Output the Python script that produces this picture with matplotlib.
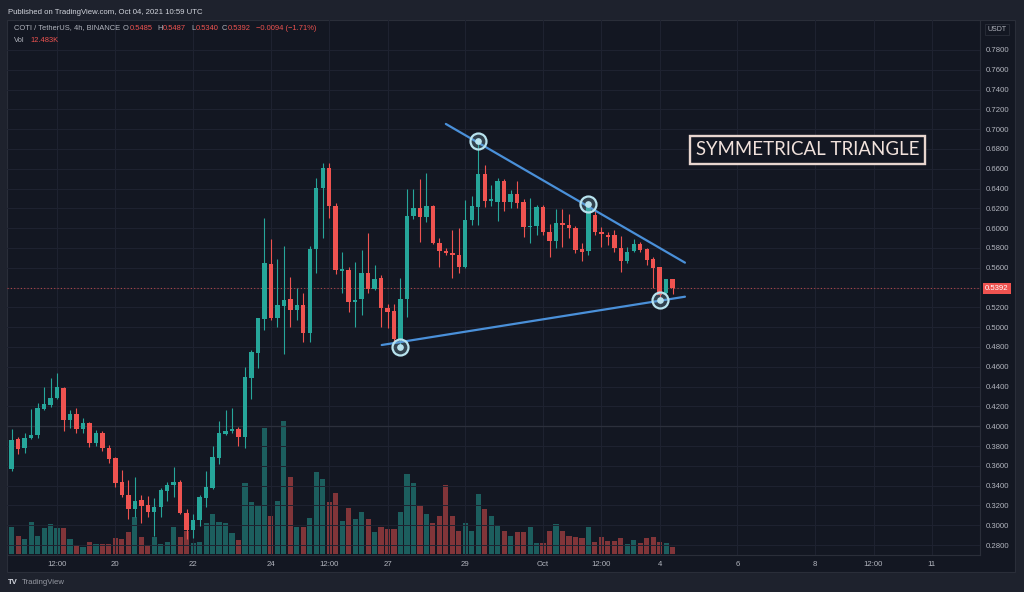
import matplotlib
matplotlib.use("Agg")
import matplotlib.pyplot as plt
from matplotlib.patches import Rectangle
import numpy as np

# 4h candles, COTI/USDT, Sep 17 08:00 -> Oct 4 08:00 (UTC)
opens = [0.3565, 0.3868, 0.3777, 0.3884, 0.3911, 0.4174, 0.4214, 0.4282, 0.4390, 0.4063,
         0.4120, 0.3972, 0.4029, 0.3834, 0.3935, 0.3777, 0.3682, 0.3433, 0.3309, 0.3167,
         0.3251, 0.3201, 0.3130, 0.3181, 0.3346, 0.3403, 0.3433, 0.3120, 0.2952, 0.3053,
         0.3278, 0.3379, 0.3676, 0.3922, 0.3948, 0.3972, 0.3888, 0.4490, 0.4736, 0.5080,
         0.5635, 0.5090, 0.5218, 0.5285, 0.5174, 0.5224, 0.4945, 0.5793, 0.6403, 0.6611,
         0.6224, 0.5571, 0.5578, 0.5254, 0.5281, 0.5544, 0.5382, 0.5494, 0.5190, 0.5167,
         0.4881, 0.5285, 0.6123, 0.6201, 0.6113, 0.6220, 0.5854, 0.5770, 0.5746, 0.5729,
         0.5605, 0.6083, 0.6211, 0.6547, 0.6278, 0.6268, 0.6480, 0.6268, 0.6346, 0.6268,
         0.6009, 0.6022, 0.6211, 0.5965, 0.5874, 0.6056, 0.6032, 0.5999, 0.5786, 0.5773,
         0.6133, 0.5965, 0.5931, 0.5931, 0.5804, 0.5669, 0.5770, 0.5837, 0.5787, 0.5686,
         0.5605, 0.5342, 0.5485]
highs = [0.3969, 0.3895, 0.3935, 0.4174, 0.4238, 0.4393, 0.4490, 0.4534, 0.4400, 0.4164,
         0.4181, 0.4086, 0.4046, 0.3962, 0.3952, 0.3810, 0.3693, 0.3558, 0.3457, 0.3484,
         0.3305, 0.3295, 0.3278, 0.3373, 0.3440, 0.3592, 0.3457, 0.3161, 0.3113, 0.3305,
         0.3548, 0.3800, 0.4056, 0.4164, 0.4188, 0.3996, 0.4602, 0.4770, 0.5090, 0.6100,
         0.5888, 0.5686, 0.5824, 0.5510, 0.5393, 0.5342, 0.5820, 0.6504, 0.6662, 0.6662,
         0.6258, 0.5763, 0.5611, 0.5662, 0.5780, 0.5948, 0.5629, 0.5528, 0.5234, 0.5234,
         0.5494, 0.6393, 0.6393, 0.6494, 0.6554, 0.6234, 0.5898, 0.5797, 0.5982, 0.5999,
         0.6285, 0.6325, 0.6880, 0.6638, 0.6436, 0.6504, 0.6494, 0.6386, 0.6480, 0.6292,
         0.6302, 0.6234, 0.6234, 0.6043, 0.6190, 0.6190, 0.6143, 0.6022, 0.5854, 0.6244,
         0.6184, 0.6015, 0.5965, 0.5982, 0.5921, 0.5814, 0.5888, 0.5864, 0.5797, 0.5713,
         0.5605, 0.5490, 0.5487]
lows = [0.3548, 0.3716, 0.3726, 0.3871, 0.3878, 0.4164, 0.4198, 0.4272, 0.3955, 0.3979,
        0.3935, 0.3935, 0.3787, 0.3804, 0.3753, 0.3625, 0.3390, 0.3289, 0.3060, 0.3087,
        0.3019, 0.3087, 0.2895, 0.3087, 0.3248, 0.3289, 0.3113, 0.2858, 0.2868, 0.2996,
        0.3188, 0.3369, 0.3615, 0.3911, 0.3935, 0.3800, 0.3777, 0.4271, 0.4585, 0.4972,
        0.5070, 0.5000, 0.4729, 0.5006, 0.5073, 0.4854, 0.4854, 0.5544, 0.5898, 0.6100,
        0.5537, 0.5342, 0.5157, 0.5006, 0.5123, 0.5342, 0.5376, 0.5006, 0.4989, 0.4864,
        0.4800, 0.5100, 0.6089, 0.5864, 0.6066, 0.5840, 0.5612, 0.5729, 0.5494, 0.5551,
        0.5595, 0.6032, 0.6032, 0.6211, 0.6224, 0.6076, 0.6177, 0.6201, 0.6201, 0.5915,
        0.5847, 0.5931, 0.5931, 0.5712, 0.5797, 0.5813, 0.5898, 0.5746, 0.5672, 0.5729,
        0.5931, 0.5814, 0.5830, 0.5763, 0.5561, 0.5652, 0.5763, 0.5763, 0.5628, 0.5392,
        0.5275, 0.5325, 0.5340]
closes = [0.3860, 0.3767, 0.3878, 0.3915, 0.4181, 0.4221, 0.4285, 0.4393, 0.4063, 0.4120,
          0.3969, 0.4036, 0.3834, 0.3935, 0.3777, 0.3669, 0.3430, 0.3305, 0.3167, 0.3248,
          0.3194, 0.3130, 0.3188, 0.3356, 0.3410, 0.3433, 0.3120, 0.2952, 0.3053, 0.3289,
          0.3383, 0.3686, 0.3928, 0.3955, 0.3969, 0.3891, 0.4494, 0.4746, 0.5090, 0.5645,
          0.5090, 0.5224, 0.5275, 0.5174, 0.5221, 0.4945, 0.5793, 0.6403, 0.6611, 0.6224,
          0.5578, 0.5591, 0.5258, 0.5275, 0.5544, 0.5382, 0.5484, 0.5190, 0.5157, 0.4881,
          0.5281, 0.6123, 0.6201, 0.6110, 0.6220, 0.5854, 0.5770, 0.5746, 0.5726, 0.5605,
          0.6083, 0.6220, 0.6547, 0.6278, 0.6292, 0.6480, 0.6268, 0.6346, 0.6258, 0.6009,
          0.6022, 0.6211, 0.5965, 0.5874, 0.6049, 0.6032, 0.5999, 0.5780, 0.5760, 0.6220,
          0.5965, 0.5938, 0.5908, 0.5797, 0.5669, 0.5763, 0.5837, 0.5780, 0.5679, 0.5601,
          0.5325, 0.5484, 0.5392]
# volume, thousands of COTI
volumes = [47, 30, 25, 54, 30, 44, 51, 44, 45, 25, 15, 12.5, 20.5, 16.6, 16.6, 16.6, 28, 25,
           38, 64, 28.5, 15.4, 28.5, 16.6, 20.5, 46.7, 29.6, 40, 18.3, 21, 52.5, 68, 55,
           52.5, 35.4, 24, 122, 89.5, 82, 215, 65, 90.6, 228, 132, 45.7, 46.7, 61, 141, 128,
           89.5, 104, 57, 78, 59, 72, 60, 37, 45.7, 42, 42, 71, 136, 121, 84, 69, 52.5, 65.5,
           118, 65.5, 40, 53.5, 40, 102.6, 77, 65.5, 49.6, 40, 30.8, 37, 37, 46.7, 19.3,
           18.3, 40, 51, 40, 30.8, 28.5, 27, 45.7, 21, 29.6, 22.7, 22.7, 27, 17, 24, 18.3,
           27, 28.5, 21, 18.3, 12.483]

last_price = 0.5392
price_ticks = [0.28, 0.30, 0.32, 0.34, 0.36, 0.38, 0.40, 0.42, 0.44, 0.46, 0.48, 0.50,
               0.52, 0.54, 0.56, 0.58, 0.60, 0.62, 0.64, 0.66, 0.68, 0.70, 0.72, 0.74,
               0.76, 0.78]
# candle index of each time-axis label (index 0 = Sep 17 08:00)
time_tick_pos = [7, 16, 28, 40, 49, 58, 70, 82, 91, 100, 112, 124, 133, 142]
time_tick_labels = ["12:00", "20", "22", "24", "12:00", "27", "29", "Oct", "12:00",
                    "4", "6", "8", "12:00", "11"]

# drawn pattern: trendlines and the touch points
upper_x = [67.0, 103.9]
upper_y = [0.7053, 0.5652]
lower_x = [57.1, 103.9]
lower_y = [0.4820, 0.5308]
pivot_x = [60, 72, 89, 100]
pivot_y = [0.4800, 0.6880, 0.6244, 0.5275]

BG = "#131722"
FRAME = "#1e222d"
GRID = "#1f2331"
BORDER = "#2a2e39"
TXT = "#b2b5be"
UP = "#26a69a"
DOWN = "#ef5350"

plt.rcParams["font.family"] = ["Liberation Sans", "DejaVu Sans"]

W, H = 1024, 592
fig = plt.figure(figsize=(W / 100, H / 100), dpi=100, facecolor=FRAME)


def fx(px):
    return px / W


def fy(py):
    return 1 - py / H


# chart panel (price pane + axes strips), behind the axes
fig.add_artist(Rectangle((fx(7), fy(572)), fx(1015) - fx(7), fy(20) - fy(572),
                         transform=fig.transFigure, fc=BG, ec=BORDER, lw=0.8,
                         zorder=-5))

ax = fig.add_axes([fx(7), fy(555), fx(980) - fx(7), fy(20) - fy(555)])
axv = ax.twinx()
axv.set_zorder(0)
ax.set_zorder(1)
ax.patch.set_visible(False)
axv.patch.set_visible(False)

o = np.array(opens)
h = np.array(highs)
lo = np.array(lows)
c = np.array(closes)
x = np.arange(len(o))
up = c >= o
cols = np.where(up, UP, DOWN)

# volume (own scale, bottom of the pane)
axv.bar(x, volumes, width=0.8, color=cols, alpha=0.5, lw=0)
axv.set_ylim(-1.7, 913)
axv.set_yticks([])
for s in axv.spines.values():
    s.set_visible(False)

# candles
ax.vlines(x, lo, h, colors=cols, lw=0.8, zorder=3)
body = np.maximum(np.abs(c - o), 0.0011)
ax.bar(x, body, bottom=np.minimum(o, c), width=0.68, color=cols, lw=0, zorder=4)

ax.set_xlim(-0.725, 149.43)
ax.set_ylim(0.2699, 0.8103)

ax.axhline(0.40, color="#2c303c", lw=0.9, zorder=1)
ax.axhline(last_price, color=DOWN, lw=0.8, ls=(0, (1, 2)), alpha=0.7, zorder=2)

# trendlines + touch circles
ax.plot(upper_x, upper_y, color="#4a90d9", lw=1.6, solid_capstyle="round", zorder=5)
ax.plot(lower_x, lower_y, color="#4a90d9", lw=1.6, solid_capstyle="round", zorder=5)
ax.plot(pivot_x, pivot_y, "o", ms=11.5, mfc=(0.55, 0.75, 0.82, 0.25), mec="#b8e3ee",
        mew=1.6, zorder=6, ls="none")
ax.plot(pivot_x, pivot_y, "o", ms=3.8, color="#b8e3ee", zorder=7, ls="none")

ax.text(122.8, 0.679, "SYMMETRICAL TRIANGLE", family=["Lato", "DejaVu Sans"],
        fontsize=13.4, color="#f1e2dc", ha="center", va="center", zorder=8,
        bbox=dict(boxstyle="square,pad=0.32", fc=BG, ec="#e8d6cf", lw=1.7))

# axes styling
ax.grid(True, color=GRID, lw=0.7, zorder=0)
ax.set_axisbelow(True)
ax.yaxis.tick_right()
ax.set_yticks(price_ticks)
ax.set_yticklabels(["" if abs(t - 0.54) < 1e-9 else f"{t:.4f}" for t in price_ticks])
ax.set_xticks(time_tick_pos)
ax.set_xticklabels(time_tick_labels)
ax.tick_params(axis="both", length=0, colors=TXT, labelsize=5.6)
ax.tick_params(axis="y", pad=4.5)
ax.tick_params(axis="x", pad=4)
for name, s in ax.spines.items():
    if name in ("right", "bottom"):
        s.set_color(BORDER)
        s.set_linewidth(0.8)
    else:
        s.set_visible(False)

# last price tag on the price scale
ax.annotate(f"{last_price:.4f}", xy=(1, last_price), xycoords=("axes fraction", "data"),
            xytext=(3.5, 0), textcoords="offset points", ha="left", va="center",
            fontsize=5.6, color="white", annotation_clip=False,
            bbox=dict(boxstyle="square,pad=0.3", fc=DOWN, ec="none"))

fig.text(fx(997), fy(29.5), "USDT", fontsize=5, color=TXT, ha="center", va="center",
         bbox=dict(boxstyle="square,pad=0.3", fc=BG, ec=BORDER, lw=0.6))

# header
fig.text(fx(8), fy(12), "Published on TradingView.com, Oct 04, 2021 10:59 UTC",
         fontsize=5.6, color="#d1d4dc", va="center")
fig.text(fx(14), fy(28), "COTI / TetherUS, 4h, BINANCE", fontsize=5.4, color=TXT,
         va="center")
legend = [(123, "O", TXT), (129.5, "0.5485", DOWN), (157.5, "H", TXT),
          (163, "0.5487", DOWN), (191, "L", TXT), (195.5, "0.5340", DOWN),
          (222, "C", TXT), (228, "0.5392", DOWN),
          (256, "\u22120.0094 (\u22121.71%)", DOWN)]
for px, s, col in legend:
    fig.text(fx(px), fy(28), s, fontsize=5.4, color=col, va="center")
fig.text(fx(14), fy(40.5), "Vol", fontsize=5.4, color=TXT, va="center")
fig.text(fx(30), fy(40.5), "12.483K", fontsize=5.4, color=DOWN, va="center")

# footer
fig.text(fx(8), fy(583), "TV", fontsize=5.6, color="#d1d4dc", weight="bold", va="center")
fig.text(fx(22), fy(583), "TradingView", fontsize=5.6, color="#9598a1", va="center")

fig.savefig("out.png", dpi=100, facecolor=FRAME)
